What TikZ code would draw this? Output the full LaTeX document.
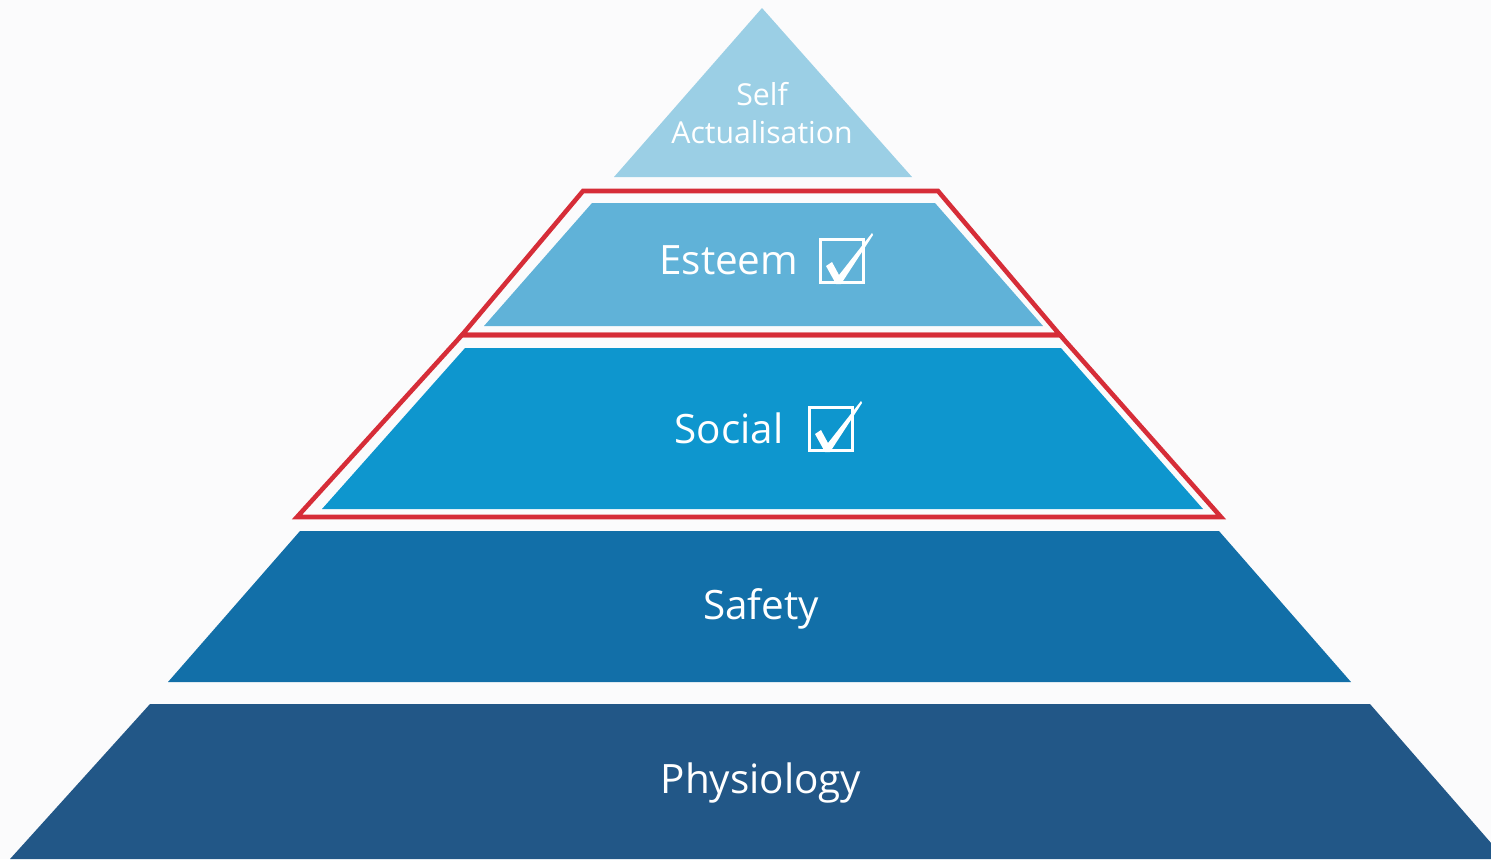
\documentclass[tikz,border=0pt]{standalone}
\usepackage{fontspec}
\setmainfont{Open Sans}
\usepackage{xcolor}
\usetikzlibrary{positioning}
\definecolor{tierTop}{RGB}{155,207,229}
\definecolor{tierEsteem}{RGB}{96,178,216}
\definecolor{tierSocial}{RGB}{14,150,206}
\definecolor{tierSafety}{RGB}{18,111,168}
\definecolor{tierBase}{RGB}{34,87,135}
\definecolor{markRed}{RGB}{214,45,56}
\definecolor{paper}{RGB}{251,251,252}
\tikzset{
    frame/.style={draw=markRed, line width=1.3pt, line join=miter},
    label/.style={text=white, inner sep=0pt, font=\fontsize{11.5}{14}\selectfont},
    small/.style={text=white, inner sep=0pt, align=center, font=\fontsize{8.6}{10.6}\selectfont},
    tickbox/.style={draw=white, line width=0.9pt, minimum size=12.2pt, inner sep=0pt}
}
\begin{document}
\begin{tikzpicture}[x=0.01cm, y=-0.01cm]
    \useasboundingbox (0,0) rectangle (1491,859);
    \clip (0,0) rectangle (1491,859);
    \fill[paper] (0,0) rectangle (1491,859);

    % --- TIERS ---
    \fill[tierTop] (762,8) -- (912,177) -- (614,177) -- cycle;
    \fill[tierEsteem] (592,203) -- (935,203) -- (1043,326) -- (484,326) -- cycle;
    \fill[tierSocial] (465,348) -- (1061,348) -- (1203,509) -- (322,509) -- cycle;
    \fill[tierSafety] (300,531) -- (1219,531) -- (1351,682) -- (168,682) -- cycle;
    \fill[tierBase] (150,704) -- (1370,704) -- (1505,859) -- (10,859) -- cycle;

    % --- HIGHLIGHT FRAMES ---
    \draw[frame] (583,191) -- (938,191) -- (1060,335) -- (462,335) -- cycle;
    \draw[frame] (462,335) -- (1060,335) -- (1221,517) -- (297,517) -- cycle;

    % --- LABELS ---
    \node[small] (self) at (762,113) {Self\\Actualisation};
    \node[label, anchor=east] (esteem) at (799,260) {Esteem};
    \node[tickbox] (esteemBox) at (842,261) {};
    \node[label, anchor=east] (social) at (784,428) {Social};
    \node[tickbox] (socialBox) at (831,429) {};
    \node[label] (safety) at (761,609) {Safety};
    \node[label] (base) at (761,783) {Physiology};

    % Tick marks
    \foreach \b in {esteemBox, socialBox} {
        \fill[white, shift={(\b.center)}] (-16,5) -- (-10,1) -- (-3,14) -- (30,-28) -- (31,-26) -- (-1,23) -- (-6,23) -- cycle;
    }
\end{tikzpicture}
\end{document}
